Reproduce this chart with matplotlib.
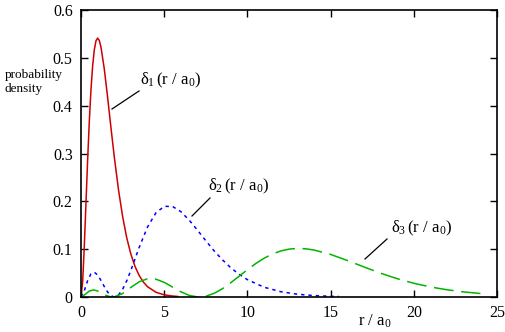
import matplotlib
matplotlib.use("Agg")
import matplotlib.pyplot as plt

plt.rcParams['font.family'] = ['Liberation Serif', 'DejaVu Serif']
plt.rcParams['mathtext.fontset'] = 'custom'
plt.rcParams['mathtext.rm'] = 'Liberation Serif'
plt.rcParams['mathtext.it'] = 'Liberation Serif'
plt.rcParams['mathtext.bf'] = 'Liberation Serif'

# delta_1 (1s radial probability density)
r1 = [0, 0.1, 0.2, 0.3, 0.4, 0.5, 0.6, 0.7, 0.8, 0.9, 1.0, 1.1, 1.2, 1.4, 1.6, 1.8,
      2.0, 2.25, 2.5, 2.75, 3.0, 3.25, 3.5, 3.75, 4.0, 4.5, 5.0, 5.5, 5.8]
d1 = [0, 0.0327, 0.1073, 0.1976, 0.2876, 0.3679, 0.4337, 0.4833, 0.5169, 0.5356, 0.5413,
      0.5363, 0.5225, 0.4767, 0.4174, 0.3541, 0.2931, 0.2250, 0.1684, 0.1236, 0.0892,
      0.0635, 0.0447, 0.0311, 0.0215, 0.0100, 0.0045, 0.0020, 0.0012]

# delta_2 (2s)
r2 = [0, 0.2, 0.4, 0.6, 0.8, 1.0, 1.2, 1.4, 1.6, 1.8, 2.0, 2.25, 2.5, 2.75, 3.0, 3.5,
      4.0, 4.5, 5.0, 5.5, 6.0, 6.5, 7.0, 7.5, 8.0, 8.5, 9.0, 9.5, 10, 11, 12, 13, 14, 15, 15.5]
d2 = [0, 0.0133, 0.0343, 0.0484, 0.0518, 0.0460, 0.0347, 0.0218, 0.0103, 0.0027, 0.0,
      0.0042, 0.0160, 0.0340, 0.0560, 0.1040, 0.1465, 0.1758, 0.1895, 0.1893, 0.1785,
      0.1607, 0.1397, 0.1176, 0.0965, 0.0777, 0.0612, 0.0475, 0.0363, 0.0205, 0.0111,
      0.0058, 0.0029, 0.0015, 0.0010]

# delta_3 (3s)
r3 = [0, 0.25, 0.5, 0.75, 1.0, 1.25, 1.5, 1.75, 1.9, 2.0, 2.5, 3.0, 3.5, 4.0, 4.5, 5.0,
      5.5, 6.0, 6.5, 7.0, 7.1, 7.5, 8.0, 8.5, 9.0, 9.5, 10, 10.5, 11, 11.5, 12, 12.5, 13,
      13.5, 14, 15, 16, 17, 18, 19, 20, 21, 22, 23, 24]
d3 = [0, 0.0055, 0.0125, 0.0148, 0.0126, 0.0080, 0.0034, 0.0005, 0.0, 0.0002, 0.0073,
      0.0201, 0.0319, 0.0382, 0.0373, 0.0306, 0.0208, 0.0109, 0.0034, 0.0001, 0.0,
      0.0016, 0.0076, 0.0174, 0.0298, 0.0434, 0.0571, 0.0699, 0.0810, 0.0898, 0.0962,
      0.1001, 0.1016, 0.1008, 0.0982, 0.0890, 0.0764, 0.0629, 0.0498, 0.0383, 0.0287,
      0.0210, 0.0151, 0.0106, 0.0073]

xticks = [0, 5, 10, 15, 20, 25]
xticklabels = ["0", "5", "10", "15", "20", "25"]
yticks = [0, 0.1, 0.2, 0.3, 0.4, 0.5, 0.6]
yticklabels = ["0", "0.1", "0.2", "0.3", "0.4", "0.5", "0.6"]

W, H = 506, 332
fig = plt.figure(figsize=(W / 100, H / 100), dpi=100)
ax = fig.add_axes([81 / W, 1 - 297 / H, (497 - 81) / W, (297 - 10) / H])

ax.plot(r1, d1, color='#cc0000', lw=1.1, solid_joinstyle='round')
ax.plot(r2, d2, color='#0000ff', lw=1.1, linestyle=(0, (2.2, 2.6)))
ax.plot(r3, d3, color='#00b400', lw=1.1, linestyle=(0, (13, 5)))

ax.set_xlim(0, 25)
ax.set_ylim(0, 0.6)
ax.set_xticks(xticks)
ax.set_xticklabels(xticklabels)
ax.set_yticks(yticks)
ax.set_yticklabels(yticklabels)
ax.tick_params(direction='in', length=5, width=1, top=True, right=True,
               labelsize=11.5, pad=6, colors='black')
for s in ax.spines.values():
    s.set_linewidth(1.2)
    s.set_color('black')

# y label
fig.text(5 / W, 1 - 75 / H, "probability", fontsize=9.5, ha='left', va='center')
fig.text(5 / W, 1 - 89 / H, "density", fontsize=9.5, ha='left', va='center')
# x label
fig.text(375 / W, 1 - 321 / H, r"$\mathrm{r}\ /\ \mathrm{a}_{0}$", fontsize=12,
         ha='center', va='center')

def px(x, y):
    return (x / W, 1 - y / H)

# annotations
labels = [
    (r"$\delta_{1}\,(\mathrm{r}\ /\ \mathrm{a}_{0})$", (140, 80), (112, 109), (139, 91)),
    (r"$\delta_{2}\,(\mathrm{r}\ /\ \mathrm{a}_{0})$", (208, 186), (192, 216), (210, 198)),
    (r"$\delta_{3}\,(\mathrm{r}\ /\ \mathrm{a}_{0})$", (391, 228), (365, 259), (387, 239)),
]
for txt, tp, p0, p1 in labels:
    fig.text(*px(*tp), txt, fontsize=12, ha='left', va='center')
    fig.add_artist(plt.Line2D([p0[0] / W, p1[0] / W], [1 - p0[1] / H, 1 - p1[1] / H],
                              color='black', lw=0.9, transform=fig.transFigure))

fig.savefig("out.png", dpi=100)
